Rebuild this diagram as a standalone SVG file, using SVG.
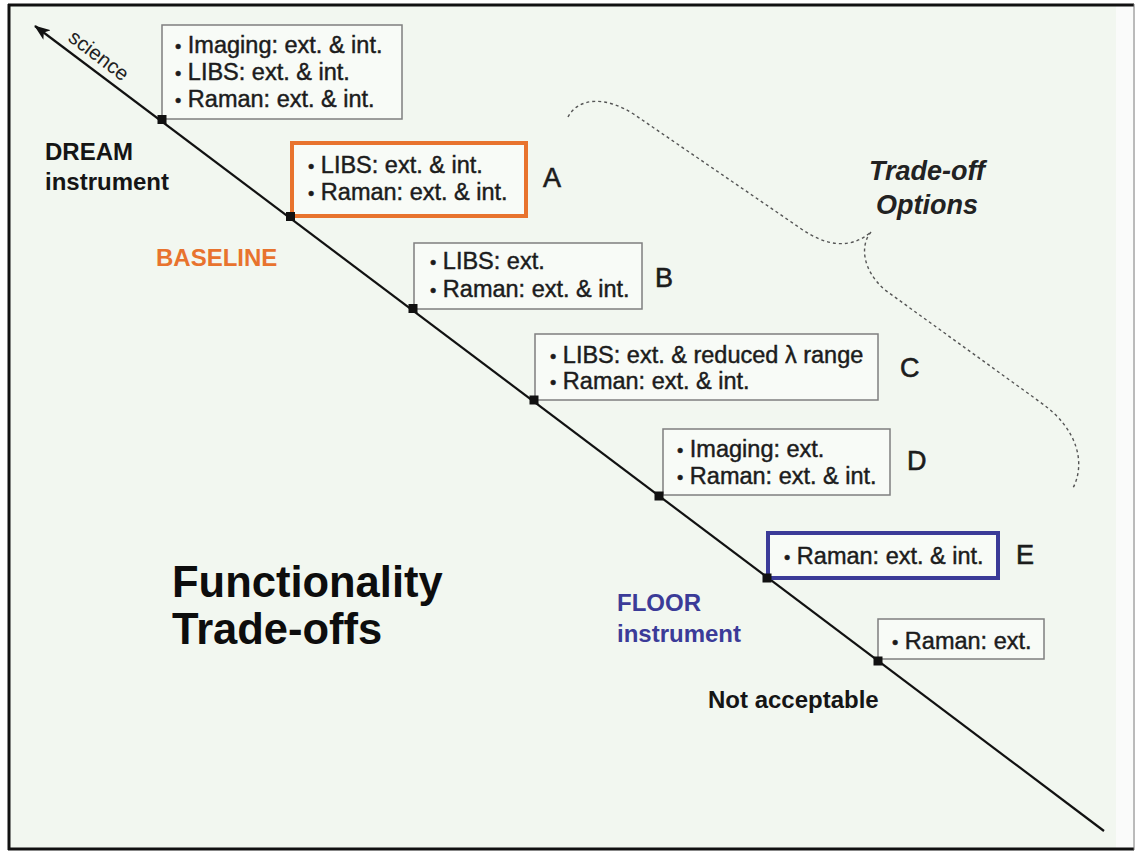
<svg xmlns="http://www.w3.org/2000/svg" width="1136" height="852" viewBox="0 0 1136 852">
  <defs>
    <marker id="arrowHead" viewBox="0 0 16 12" refX="15" refY="6" markerWidth="16" markerHeight="12" markerUnits="userSpaceOnUse" orient="auto-start-reverse">
      <path d="M0,0 L16,6 L0,12 L4,6 Z" fill="#111"/>
    </marker>
    <style>
      .box { fill: #f8fbf7; stroke: #7f7f7f; stroke-width: 1.5; }
      .boxA { fill: #f8fbf7; stroke: #e8732e; stroke-width: 4; }
      .boxE { fill: #f8fbf7; stroke: #3b3b98; stroke-width: 4; }
      .item { font-family: "Liberation Sans", Arial, sans-serif; font-size: 23.5px; fill: #1c1c1c; stroke: #1c1c1c; stroke-width: 0.45; }
      .bul { font-size: 18px; }
      .tag { font-family: "Liberation Sans", Arial, sans-serif; font-size: 27px; fill: #1c1c1c; stroke: #1c1c1c; stroke-width: 0.6; }
      .lbl { font-family: "Liberation Sans", Arial, sans-serif; font-size: 24px; font-weight: bold; fill: #151515; }
      .dot { fill: #111; }
    </style>
  </defs>

  <!-- page and frame -->
  <rect x="0" y="0" width="1136" height="852" fill="#ffffff"/>
  <rect x="10" y="6" width="1106" height="842" fill="#f2f7f0"/>
  <rect x="1116" y="6" width="17" height="842" fill="#fafbfa"/>
  <line x1="8" y1="5" x2="1134" y2="5" stroke="#111" stroke-width="3"/>
  <line x1="9" y1="4" x2="9" y2="850" stroke="#111" stroke-width="3"/>
  <line x1="8" y1="849" x2="1134" y2="849" stroke="#111" stroke-width="3"/>
  <line x1="1134" y1="4" x2="1134" y2="850" stroke="#777" stroke-width="1"/>

  <!-- connectors: science axis and trade-off brace -->
  <g id="connectors">
    <line x1="1104" y1="831" x2="35" y2="26" stroke="#111" stroke-width="2.2" marker-end="url(#arrowHead)"/>
    <path d="M568,117 C578,98 605,95 635,115 L800,228 C825,246 850,250 871,232 M871,232 C860,245 862,270 885,290 L1040,402 C1080,430 1085,465 1073,488" fill="none" stroke="#555" stroke-width="1.4" stroke-dasharray="3 3"/>
  </g>

  <text x="0" y="0" transform="translate(67,40) rotate(37.07)" font-family="Liberation Sans, Arial, sans-serif" font-size="20.5" fill="#222">science</text>

  <!-- option boxes -->
  <g id="dream">
    <rect class="box" x="162" y="25" width="240" height="94"/>
    <text class="item" x="175" y="53"><tspan class="bul">•</tspan> Imaging: ext. &amp; int.</text>
    <text class="item" x="175" y="80"><tspan class="bul">•</tspan> LIBS: ext. &amp; int.</text>
    <text class="item" x="175" y="107"><tspan class="bul">•</tspan> Raman: ext. &amp; int.</text>
    <rect class="dot" x="157.5" y="115" width="9" height="9"/>
  </g>

  <g id="optionA">
    <rect class="boxA" x="292" y="143" width="234" height="73"/>
    <text class="item" x="308" y="173"><tspan class="bul">•</tspan> LIBS: ext. &amp; int.</text>
    <text class="item" x="308" y="200"><tspan class="bul">•</tspan> Raman: ext. &amp; int.</text>
    <text class="tag" x="543" y="187">A</text>
    <rect class="dot" x="286" y="212" width="9" height="9"/>
  </g>

  <g id="optionB">
    <rect class="box" x="414" y="243" width="228" height="66"/>
    <text class="item" x="430" y="269"><tspan class="bul">•</tspan> LIBS: ext.</text>
    <text class="item" x="430" y="297"><tspan class="bul">•</tspan> Raman: ext. &amp; int.</text>
    <text class="tag" x="655" y="287">B</text>
    <rect class="dot" x="408.5" y="304" width="9" height="9"/>
  </g>

  <g id="optionC">
    <rect class="box" x="535" y="334" width="343" height="66"/>
    <text class="item" x="550" y="363"><tspan class="bul">•</tspan> LIBS: ext. &amp; reduced λ range</text>
    <text class="item" x="550" y="389"><tspan class="bul">•</tspan> Raman: ext. &amp; int.</text>
    <text class="tag" x="900" y="377">C</text>
    <rect class="dot" x="529.5" y="395.5" width="9" height="9"/>
  </g>

  <g id="optionD">
    <rect class="box" x="663" y="429" width="227" height="66"/>
    <text class="item" x="677" y="457"><tspan class="bul">•</tspan> Imaging: ext.</text>
    <text class="item" x="677" y="484"><tspan class="bul">•</tspan> Raman: ext. &amp; int.</text>
    <text class="tag" x="907" y="470">D</text>
    <rect class="dot" x="654.5" y="491.5" width="9" height="9"/>
  </g>

  <g id="optionE">
    <rect class="boxE" x="768" y="533" width="230" height="45"/>
    <text class="item" x="784" y="564"><tspan class="bul">•</tspan> Raman: ext. &amp; int.</text>
    <text class="tag" x="1016" y="564">E</text>
    <rect class="dot" x="762.5" y="573.5" width="9" height="9"/>
  </g>

  <g id="rejected">
    <rect class="box" x="878" y="619" width="166" height="40"/>
    <text class="item" x="892" y="649"><tspan class="bul">•</tspan> Raman: ext.</text>
    <rect class="dot" x="873.5" y="656.5" width="9" height="9"/>
  </g>

  <!-- side labels -->
  <g id="dreamLabel">
    <text class="lbl" x="45" y="160">DREAM</text>
    <text class="lbl" x="45" y="190">instrument</text>
  </g>
  <g id="baselineLabel">
    <text class="lbl" x="156" y="266" style="fill:#e8732e">BASELINE</text>
  </g>
  <g id="floorLabel">
    <text class="lbl" x="617" y="611" style="fill:#3b3b98">FLOOR</text>
    <text class="lbl" x="617" y="642" style="fill:#3b3b98">instrument</text>
  </g>
  <g id="notAcceptable">
    <text class="lbl" x="708" y="708">Not acceptable</text>
  </g>
  <g id="tradeOffOptions">
    <text x="927" y="180" text-anchor="middle" font-family="Liberation Sans, Arial, sans-serif" font-size="27" font-style="italic" font-weight="bold" fill="#222">Trade-off</text>
    <text x="927" y="214" text-anchor="middle" font-family="Liberation Sans, Arial, sans-serif" font-size="27" font-style="italic" font-weight="bold" fill="#222">Options</text>
  </g>
  <g id="title">
    <text x="172" y="597" font-family="Liberation Sans, Arial, sans-serif" font-size="43.5" font-weight="bold" fill="#0d0d0d">Functionality</text>
    <text x="172" y="644" font-family="Liberation Sans, Arial, sans-serif" font-size="43.5" font-weight="bold" fill="#0d0d0d">Trade-offs</text>
  </g>
</svg>
